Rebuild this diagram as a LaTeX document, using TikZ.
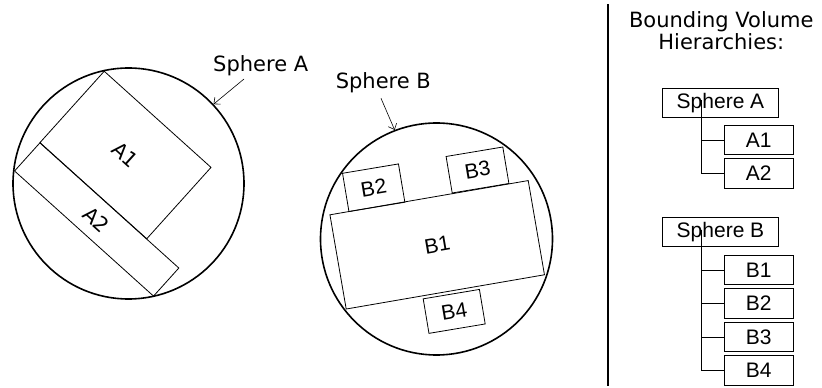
\documentclass[tikz,border=0pt]{standalone}
\usepackage{fontspec}
\usetikzlibrary{arrows.meta,positioning}
\newfontfamily\boxfont{Liberation Sans}
\newfontfamily\lblfont{DejaVu Sans}

\tikzset{
  sphere/.style={circle, draw, line width=1.6pt, inner sep=0pt},
  part/.style={draw, line width=0.8pt, inner sep=0pt, font=\boxfont\fontsize{21}{25}\selectfont},
  apart/.style={draw, line width=0.8pt, inner sep=0pt, font=\lblfont\fontsize{20.5}{24}\selectfont},
  lbl/.style={inner sep=0pt, font=\lblfont\fontsize{21}{19.7}\selectfont},
  tbox/.style={draw, line width=0.8pt, inner sep=0pt, minimum height=29.5pt, font=\boxfont\fontsize{21}{25}\selectfont}
}

\begin{document}
\begin{tikzpicture}[x=1pt, y=1pt, >={Straight Barb[length=5pt,width=9pt]}, node distance=33.5pt]

    \useasboundingbox (0,0) rectangle (822,388);

    % Sphere A and its parts
    \node[sphere, minimum size=231pt] (cA) at (128.5,204.5) {};
    \node[apart, rotate=-42, minimum width=143.7pt, minimum height=96pt] (A1) at (125.5,233) {A1};
    \node[apart, rotate=-42, minimum width=187pt, minimum height=37.8pt] (A2) at (96.7,168.5) {A2};
    \node[lbl, anchor=base] (labA) at (260.7,316.3) {Sphere A};
    \draw[->, line width=0.6pt] ([xshift=-16.7pt,yshift=-7.3pt]labA.base) -- (cA.43);

    % Sphere B and its parts
    \node[sphere, minimum size=232pt] (cB) at (436.5,149) {};
    \node[part, rotate=9.8, minimum width=201.2pt, minimum height=95.6pt] (B1) at (437.2,143.2) {B1};
    \node[part, rotate=9.5, minimum width=56.7pt, minimum height=38.8pt] (B2) at (373.7,200.25) {B2};
    \node[part, rotate=9.5, minimum width=57.5pt, minimum height=37pt] (B3) at (477.5,218) {B3};
    \node[part, rotate=9.5, minimum width=57pt, minimum height=35pt] (B4) at (454.2,76.6) {B4};
    \node[lbl, anchor=base] (labB) at (383.3,299.7) {Sphere B};
    \draw[->, line width=0.6pt] ([xshift=-2.3pt,yshift=-10pt]labB.base) -- (cB.111);

    % Divider
    \draw[line width=1.8pt] (608.3,2) -- (608.3,384);

    % Hierarchies
    \node[lbl, align=center, anchor=base] (title) at (721.3,338.7) {Bounding Volume\\Hierarchies:};

    \node[tbox, minimum width=115.6pt] (tA) at (720.5,285.2) {Sphere A};
    \node[tbox, minimum width=69pt] (tA1) at (758.8,248) {A1};
    \node[tbox, minimum width=69pt, below of=tA1] (tA2) {A2};

    \node[tbox, minimum width=115.6pt] (tB) at (720.5,156) {Sphere B};
    \node[tbox, minimum width=69pt] (tB1) at (758.8,118) {B1};
    \node[tbox, minimum width=69pt, below of=tB1] (tB2) {B2};
    \node[tbox, minimum width=69pt, below of=tB2] (tB3) {B3};
    \node[tbox, minimum width=69pt, below of=tB3] (tB4) {B4};

    % Tree connectors
    \coordinate (jA) at (701,288);
    \coordinate (jB) at (701,158);
    \draw[line width=0.8pt] (jA) |- (tA1.west);
    \draw[line width=0.8pt] (jA) |- (tA2.west);
    \foreach \k in {1,2,3,4}
        \draw[line width=0.8pt] (jB) |- (tB\k.west);

\end{tikzpicture}
\end{document}
